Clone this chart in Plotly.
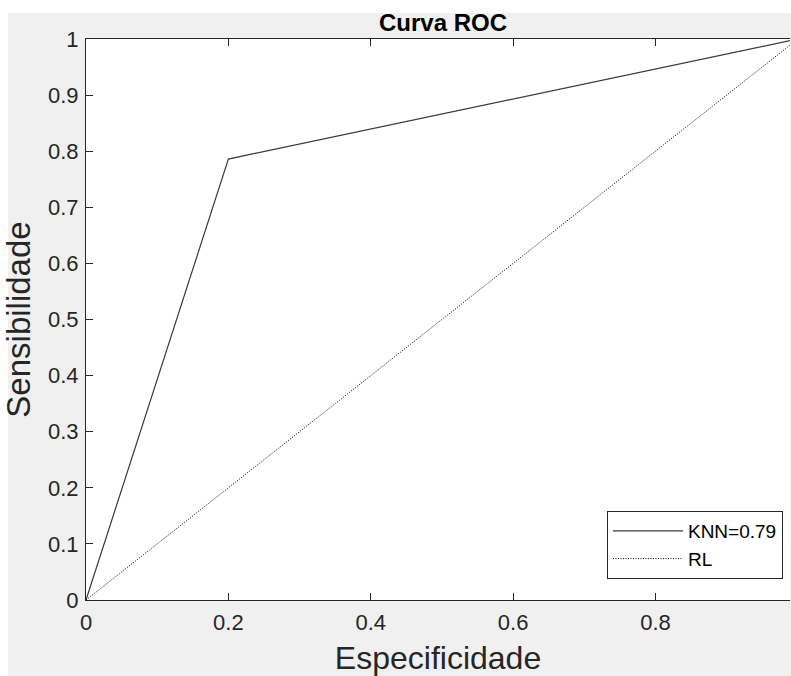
import plotly.graph_objects as go

# dados da curva ROC
knn_x = [0, 0.2, 1]
knn_y = [0, 0.786, 1]
rl_x = [0, 1]
rl_y = [0, 1]

x_ticks = [0, 0.2, 0.4, 0.6, 0.8]
x_labels = ["0", "0.2", "0.4", "0.6", "0.8"]
y_ticks = [0, 0.1, 0.2, 0.3, 0.4, 0.5, 0.6, 0.7, 0.8, 0.9, 1]
y_labels = ["0", "0.1", "0.2", "0.3", "0.4", "0.5", "0.6", "0.7", "0.8", "0.9", "1"]

fonte = "Liberation Sans, Arial, sans-serif"
cor_eixo = "#262626"

fig = go.Figure()

fig.add_trace(go.Scatter(
    x=knn_x, y=knn_y, mode="lines", name="KNN=0.79",
    line=dict(color="#3a3a3a", width=1.2)
))
fig.add_trace(go.Scatter(
    x=rl_x, y=rl_y, mode="lines", name="RL",
    line=dict(color="#000000", width=1, dash="1px,1.5px")
))

fig.update_layout(
    width=791, height=676,
    margin=dict(l=86, r=1, t=39, b=76),
    paper_bgcolor="#f0f0f0",
    plot_bgcolor="white",
    font=dict(family=fonte, color=cor_eixo, size=22),
    title=dict(text="<b>Curva ROC</b>", x=443 / 791, xanchor="center",
               y=(676 - 23) / 676, yanchor="middle", yref="container",
               font=dict(size=24, color="#000000")),
    showlegend=True,
    legend=dict(x=0.99, xanchor="right", y=0.0374, yanchor="bottom",
                bgcolor="white", bordercolor=cor_eixo, borderwidth=1,
                font=dict(size=19, color="#000000"), itemwidth=70),
    # faixas brancas no topo e na esquerda
    shapes=[
        dict(type="rect", xref="paper", yref="paper", x0=-0.3, x1=1.2,
             y0=(600 - 13) / 561, y1=1.3, fillcolor="white", line_width=0, layer="below"),
        dict(type="rect", xref="paper", yref="paper", x0=-0.3, x1=(8 - 86) / 704,
             y0=-0.3, y1=1.3, fillcolor="white", line_width=0, layer="below"),
    ],
)

fig.update_xaxes(
    range=[0, 0.989], tickvals=x_ticks, ticktext=x_labels,
    showgrid=False, zeroline=False, showline=True, linecolor=cor_eixo, linewidth=1,
    mirror="ticks", ticks="inside", ticklen=7, tickcolor=cor_eixo,
    ticklabelstandoff=3,
    title=dict(text="Especificidade", font=dict(size=32), standoff=17),
)
fig.update_yaxes(
    range=[0, 1], tickvals=y_ticks, ticktext=y_labels,
    showgrid=False, zeroline=False, showline=True, linecolor=cor_eixo, linewidth=1,
    ticks="inside", ticklen=7, tickcolor=cor_eixo,
    ticklabelstandoff=2,
    title=dict(text="Sensibilidade", font=dict(size=33), standoff=10),
)

# tira a margem padrão da página
fig.write_html("out.html", config={"displayModeBar": False},
               post_script="document.body.style.margin='0';"
                           "document.documentElement.style.overflow='hidden';")
